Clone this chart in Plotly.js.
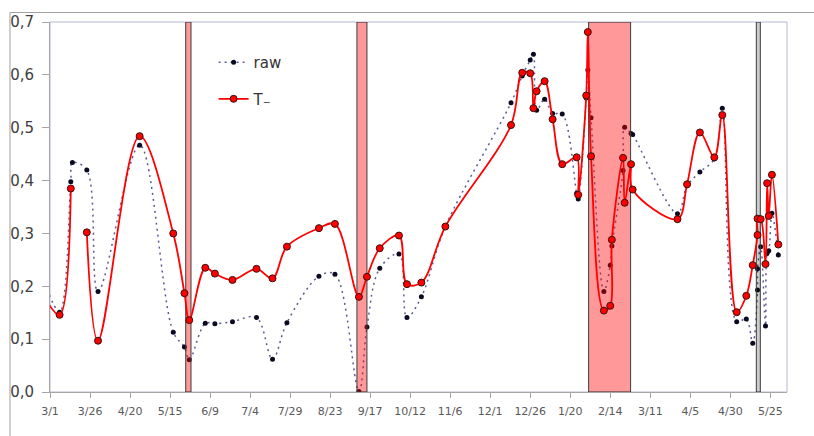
<!DOCTYPE html>
<html>
<head>
<meta charset="utf-8">
<script src="https://cdn.plot.ly/plotly-3.0.1.min.js"></script>
<style>html,body{margin:0;padding:0;background:#fff;}#chart{width:814px;height:436px;}</style>
</head>
<body>
<div id="chart"></div>
<script>
// Observation dates (shared by both series)
const dates = ['2010-02-26','2010-03-07','2010-03-14','2010-03-15','2010-03-24','2010-03-31','2010-04-26','2010-05-17','2010-05-24','2010-05-27','2010-06-06','2010-06-12','2010-06-23','2010-07-08','2010-07-18','2010-07-27','2010-08-16','2010-08-26','2010-09-10','2010-09-15','2010-09-23','2010-10-05','2010-10-10','2010-10-19','2010-11-03','2010-12-14','2010-12-21','2010-12-26','2010-12-28','2010-12-30','2011-01-04','2011-01-09','2011-01-15','2011-01-24','2011-01-25','2011-01-30','2011-01-31','2011-02-02','2011-02-10','2011-02-14','2011-02-15','2011-02-22','2011-02-23','2011-02-27','2011-02-28','2011-03-28','2011-04-03','2011-04-11','2011-04-20','2011-04-25','2011-05-04','2011-05-10','2011-05-14','2011-05-17','2011-05-17','2011-05-19','2011-05-22','2011-05-23','2011-05-24','2011-05-26','2011-05-30'];

const rawValues = [0.205,0.151,0.398,0.434,0.420,0.190,0.467,0.113,0.085,0.061,0.130,0.129,0.133,0.141,0.062,0.131,0.219,0.223,0.001,0.123,0.234,0.261,0.141,0.180,0.313,0.547,0.598,0.628,0.639,0.533,0.554,0.527,0.526,0.376,0.365,0.556,0.609,0.519,0.190,0.240,0.276,0.419,0.501,0.489,0.487,0.337,0.390,0.416,0.441,0.537,0.133,0.138,0.092,0.193,0.233,0.275,0.125,0.262,0.267,0.338,0.259];

const tValues = [0.177,0.146,0.385,null,0.302,0.097,0.484,0.300,0.187,0.136,0.235,0.224,0.212,0.233,0.215,0.275,0.310,0.318,0.180,0.218,0.272,0.296,0.204,0.207,0.313,0.505,0.604,0.603,0.537,0.569,0.588,0.516,0.431,0.444,0.373,0.561,0.681,0.446,0.154,0.163,0.288,0.443,0.358,0.431,0.383,0.327,0.393,0.491,0.444,0.524,0.151,0.182,0.240,0.297,0.328,0.327,0.242,0.395,0.333,0.411,0.279];

// Highlighted periods
const spanStart = ['2010-05-24 19:00','2010-09-08 18:00','2011-01-31 12:00','2011-05-16 06:00'];
const spanEnd   = ['2010-05-28 02:00','2010-09-15 00:00','2011-02-26 17:00','2011-05-18 18:00'];
const spanKind  = ['red','red','red','grey'];

// Axis ticks
const tickDates = ['2010-03-01','2010-03-26','2010-04-20','2010-05-15','2010-06-09','2010-07-04','2010-07-29','2010-08-23','2010-09-17','2010-10-12','2010-11-06','2010-12-01','2010-12-26','2011-01-20','2011-02-14','2011-03-11','2011-04-05','2011-04-30','2011-05-25'];
const tickLabels = ['3/1','3/26','4/20','5/15','6/9','7/4','7/29','8/23','9/17','10/12','11/6','12/1','12/26','1/20','2/14','3/11','4/5','4/30','5/25'];

const yRange = [0, 0.7];
const xRange = ['2010-03-01', '2011-06-04 10:00'];

const traces = [];
traces.push({
  x: dates, y: rawValues, name: 'raw', type: 'scatter', mode: 'lines+markers',
  legendgroup: 'a',
  line: {color: '#5a5a96', width: 1.5, dash: '2px,4px', shape: 'spline', smoothing: 1},
  marker: {color: '#0a0a20', size: 5, symbol: 'circle'}
});
spanStart.forEach((s, i) => {
  const e = spanEnd[i];
  traces.push({
    x: [s, s, e, e, s], y: [yRange[0], yRange[1], yRange[1], yRange[0], yRange[0]],
    type: 'scatter', mode: 'lines', fill: 'toself',
    fillcolor: spanKind[i] === 'red' ? 'rgba(255,0,0,0.4)' : 'rgba(0,0,0,0.2)',
    line: {color: '#3c3c3c', width: 1}, showlegend: false, hoverinfo: 'skip'
  });
});
traces.push({
  x: dates, y: tValues, name: 'T₋', type: 'scatter', mode: 'lines+markers',
  legendgroup: 'b', connectgaps: false,
  line: {color: '#ff0000', width: 1.8, shape: 'spline', smoothing: 1},
  marker: {color: '#ff0000', size: 7, line: {color: '#3a1010', width: 1}}
});

const frame = '#a6a6a6';
const layout = {
  width: 814, height: 436,
  margin: {l: 50, r: 27, t: 22, b: 44, pad: 0},
  paper_bgcolor: '#ffffff', plot_bgcolor: '#ffffff',
  separators: ',.',
  font: {family: 'DejaVu Sans, Verdana, sans-serif', color: '#404040'},
  showlegend: true,
  legend: {x: 0.222, y: 0.935, xanchor: 'left', yanchor: 'top', bgcolor: 'rgba(0,0,0,0)',
           font: {size: 15, color: '#333333', family: 'DejaVu Sans, sans-serif'},
           traceorder: 'grouped', tracegroupgap: 14},
  xaxis: {
    type: 'date', range: xRange, tickvals: tickDates, ticktext: tickLabels,
    ticks: 'outside', ticklen: 5, tickcolor: frame, showline: true, linecolor: frame, linewidth: 1,
    showgrid: false, zeroline: false, ticklabelstandoff: 4,
    tickfont: {size: 11, color: '#595959', family: 'DejaVu Sans, sans-serif'}
  },
  yaxis: {
    range: yRange, tick0: 0, dtick: 0.1, tickformat: '.1f',
    ticks: 'outside', ticklen: 7, tickcolor: frame, showline: true, linecolor: frame, linewidth: 1,
    showgrid: false, zeroline: false, ticklabelstandoff: 5,
    tickfont: {size: 15, color: '#404040', family: 'DejaVu Sans, sans-serif'}
  },
  shapes: [
    {type: 'rect', xref: 'paper', yref: 'paper', x0: 0, x1: 1, y0: 0, y1: 1, line: {color: '#b4bad2', width: 1}, layer: 'below'},
    {type: 'line', xref: 'paper', yref: 'paper', x0: -0.0543, x1: 1.05, y0: 1.0257, y1: 1.0257, line: {color: '#a0a0a0', width: 1}},
    {type: 'line', xref: 'paper', yref: 'paper', x0: -0.0543, x1: -0.0543, y0: 1.0257, y1: -0.2, line: {color: '#a0a0a0', width: 1}}
  ]
};

Plotly.newPlot('chart', traces, layout, {displayModeBar: false, staticPlot: true});
</script>
</body>
</html>
